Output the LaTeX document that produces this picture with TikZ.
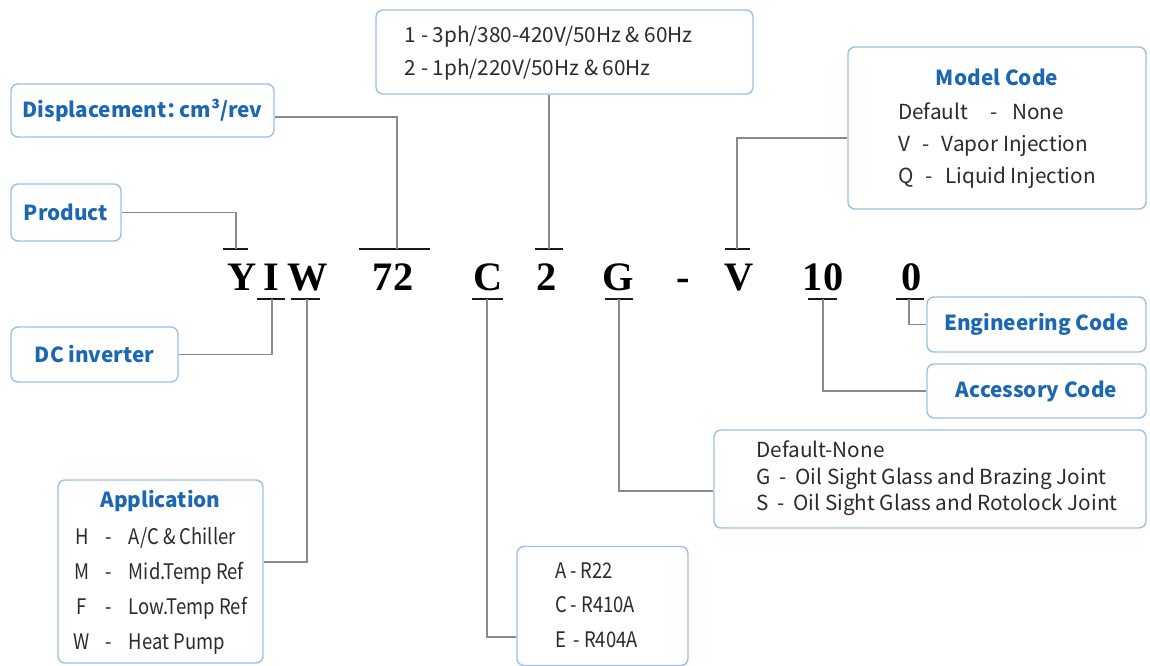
\documentclass[tikz,border=0pt]{standalone}
\usepackage{fontspec}
\newfontfamily\cjk{Noto Sans CJK SC}
\newfontfamily\cjknarrow{Noto Sans CJK SC}[FakeStretch=0.86]
\newfontfamily\codefont{Liberation Serif}
\definecolor{boxblue}{RGB}{155,194,230}
\definecolor{titleblue}{RGB}{27,103,178}
\definecolor{linegray}{RGB}{138,138,138}
\definecolor{bodytext}{RGB}{43,43,43}
\tikzset{
  box/.style={draw=boxblue, line width=0.8pt, rounded corners=4pt, fill=white, inner sep=0pt},
  wh/.style 2 args={minimum width=#1*0.02cm, minimum height=#2*0.02cm},
  ttl/.style={font=\cjk\bfseries\fontsize{11.8}{14}\selectfont, text=titleblue},
  body/.style={font=\cjk\fontsize{11.8}{14}\selectfont\def\arraystretch{#1}, text=bodytext},
  narrowbody/.style={font=\cjknarrow\fontsize{12.2}{14}\selectfont\def\arraystretch{#1}, text=bodytext},
  conn/.style={draw=linegray, line width=0.7pt},
  bar/.style={line width=1.5pt, color=black!90},
  code/.style={font=\codefont\bfseries\fontsize{23}{26}\selectfont, anchor=base, inner sep=0pt}
}
\newcommand{\ttlfont}{\cjk\bfseries\color{titleblue}\fontsize{11.8}{14}\selectfont}
\begin{document}
\begin{tikzpicture}[x=0.02cm,y=-0.02cm]
\useasboundingbox (0,0) rectangle (1150,666);
% the model number
\node[code] (cY) at (242,290) {Y};
\node[code] (cI) at (271,290) {I};
\node[code] (cW) at (308,290) {W};
\node[code] (c72) at (393,290) {72};
\node[code] (cC) at (488,290) {C};
\node[code] (c2) at (547,290) {2};
\node[code] (cG) at (618,290) {G};
\node[code] (cDash) at (683,290) {-};
\node[code] (cV) at (739,290) {V};
\node[code] (c10) at (823,290) {10};
\node[code] (c0) at (912,290) {0};
% bars over and under the code letters
\foreach \a/\b/\y in {223/248/249, 359/430/249, 535/563/249, 725/750/249,
  257/285/299, 291/320/299, 472/503/299, 605/633/299, 808/837/299, 896/924/299}
  \draw[bar] (\a,\y) -- (\b,\y);
\coordinate (pY) at (236,249);
\coordinate (p72) at (397,249);
\coordinate (p2) at (549,249);
\coordinate (pV) at (737,249);
\coordinate (pI) at (272,299);
\coordinate (pW) at (307,299);
\coordinate (pC) at (487,299);
\coordinate (pG) at (619,299);
\coordinate (p10) at (823,299);
\coordinate (p0) at (909,299);
% boxes
\node[box, wh={263}{53}, ttl] (disp) at (142.5,110.5) {Displacement：\kern-4.5pt cm³/rev};
\node[box, wh={110}{57}, ttl] (prod) at (66,212.5) {Product};
\node[box, wh={167}{55}, ttl] (dc) at (94.5,354.5) {DC inverter};
\node[box, wh={205}{183}, narrowbody=1.43] (app) at (160.5,571.5)
  {\begin{tabular}{@{}c@{\hspace{9pt}}c@{\hspace{9.5pt}}l@{}}
   \multicolumn{3}{@{}c@{}}{\ttlfont Application}\\[1pt]
   H & - & A/C \& Chiller\\
   M & - & Mid.Temp Ref\\
   F & - & Low.Temp Ref\\
   W & - & Heat Pump
   \end{tabular}};
\node[box, wh={377}{84}, body=1.336] (volt) at (564.5,52)
  {\begin{tabular}{@{}l@{\hspace{18pt}}}
   1 - 3ph/380-420V/50Hz \& 60Hz\\
   2 - 1ph/220V/50Hz \& 60Hz
   \end{tabular}};
\node[box, wh={171}{119}, narrowbody=1.4] (refr) at (602.5,606)
  {\begin{tabular}{@{}l@{\hspace{7pt}}}
   A - R22\\
   C - R410A\\
   E\ \,- R404A
   \end{tabular}};
\node[box, wh={432}{98}, body=1.07] (opts) at (930,479)
  {\begin{tabular}{@{\hspace{8pt}}l@{}}
   Default-None\\
   G\hspace{5pt}-\hspace{5pt}Oil Sight Glass and Brazing Joint\\
   S\hspace{5pt}-\hspace{5pt}Oil Sight Glass and Rotolock Joint\rule[-4pt]{0pt}{0pt}
   \end{tabular}};
\node[box, wh={298}{162}, body=1.29] (model) at (997,128)
  {\begin{tabular}{@{}l@{}}
   \multicolumn{1}{@{}c@{}}{\ttlfont Model Code}\\[1.7pt]
   Default\hspace{13pt}-\hspace{8pt}None\\
   V\hspace{7pt}-\hspace{7pt}Vapor Injection\\
   Q\hspace{7pt}-\hspace{7pt}Liquid Injection
   \end{tabular}};
\node[box, wh={219}{55}, ttl] (eng) at (1036.5,324.5) {Engineering Code};
\node[box, wh={219}{54}, ttl] (acc) at (1036.5,391) {Accessory Code};
% connectors
\draw[conn] ([yshift=-0.13cm]disp.east) -| (p72);
\draw[conn] (prod.east) -| (pY);
\draw[conn] (dc.east) -| (pI);
\draw[conn] (pW) |- ([yshift=0.19cm]app.east);
\draw[conn] (volt.south -| p2) -- (p2);
\draw[conn] (pC) |- ([yshift=-0.62cm]refr.west);
\draw[conn] (pG) |- ([yshift=-0.24cm]opts.west);
\draw[conn] (pV) |- ([yshift=-0.2cm]model.west);
\draw[conn] (p10) |- (acc.west);
\draw[conn] (p0) |- (eng.west);
\end{tikzpicture}
\end{document}
